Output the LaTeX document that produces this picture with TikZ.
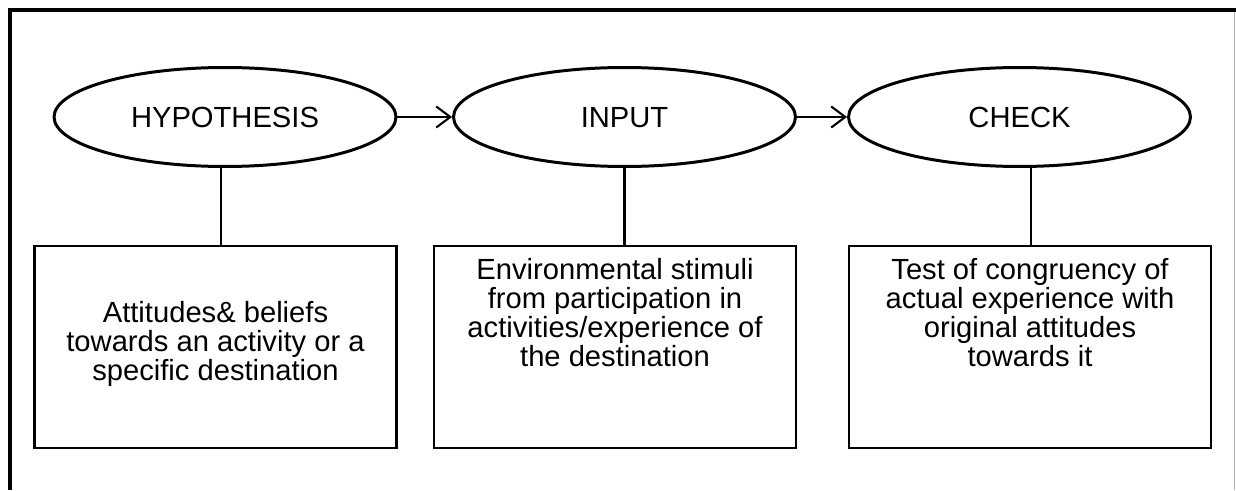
\documentclass[tikz,border=0pt]{standalone}
\usepackage{fontspec}
\setmainfont{Liberation Sans}
\usetikzlibrary{shapes.geometric,arrows.meta}

\begin{document}
\begin{tikzpicture}[x=0.02cm, y=-0.02cm,
    phase/.style={ellipse, draw, line width=1.7pt, minimum width=6.84cm, minimum height=1.98cm, inner sep=0pt, text height=11.9pt, text depth=0pt, font=\fontsize{16.6}{16.6}\selectfont},
    detail/.style={draw, line width=1.4pt, minimum width=7.24cm, minimum height=4.04cm, inner sep=0pt},
    note/.style={align=center, inner sep=0pt, font=\fontsize{16.6}{16.4}\selectfont},
    link/.style={line width=1.4pt},
    flow/.style={line width=1.2pt, -{Straight Barb[length=8pt, width=12pt, line width=1.2pt]}}]
      \useasboundingbox (0,0) rectangle (1236,490);
      \fill[white] (0,0) rectangle (1236,490);
      % frame round the figure
      \draw[line width=2.5pt] (10,490) -- (10,10) -- (1236,10);
      \draw[black!30, line width=0.6pt] (1234.5,12) -- (1234.5,490);
      % the three stages
      \node[phase] (hyp) at (225,117) {HYPOTHESIS};
      \node[phase] (inp) at (624.5,117) {INPUT};
      \node[phase] (chk) at (1019.5,117) {CHECK};
      \draw[flow] (hyp) -- (inp);
      \draw[flow] (inp) -- (chk);
      % what each stage stands for
      \node[detail] (hypbox) at (215.5,347) {};
      \node[detail] (inpbox) at (615,347) {};
      \node[detail] (chkbox) at (1030,347) {};
      \node[note] (hyptxt) at (215.5,344) {Attitudes\& beliefs\\towards an activity or a\\specific destination};
      \node[note] (inptxt) at (615,312.5) {Environmental stimuli\\from participation in\\activities/experience of\\the destination};
      \node[note] (chktxt) at (1030,312.5) {Test of congruency of\\actual experience with\\original attitudes\\towards it};
      \draw[link] ([xshift=-0.08cm]hyp.south) -- ([xshift=-0.08cm]hyp.south |- hypbox.north);
      \draw[link] (inp.south) -- (inp.south |- inpbox.north);
      \draw[link] ([xshift=0.23cm]chk.south) -- ([xshift=0.23cm]chk.south |- chkbox.north);
    \end{tikzpicture}
\end{document}
